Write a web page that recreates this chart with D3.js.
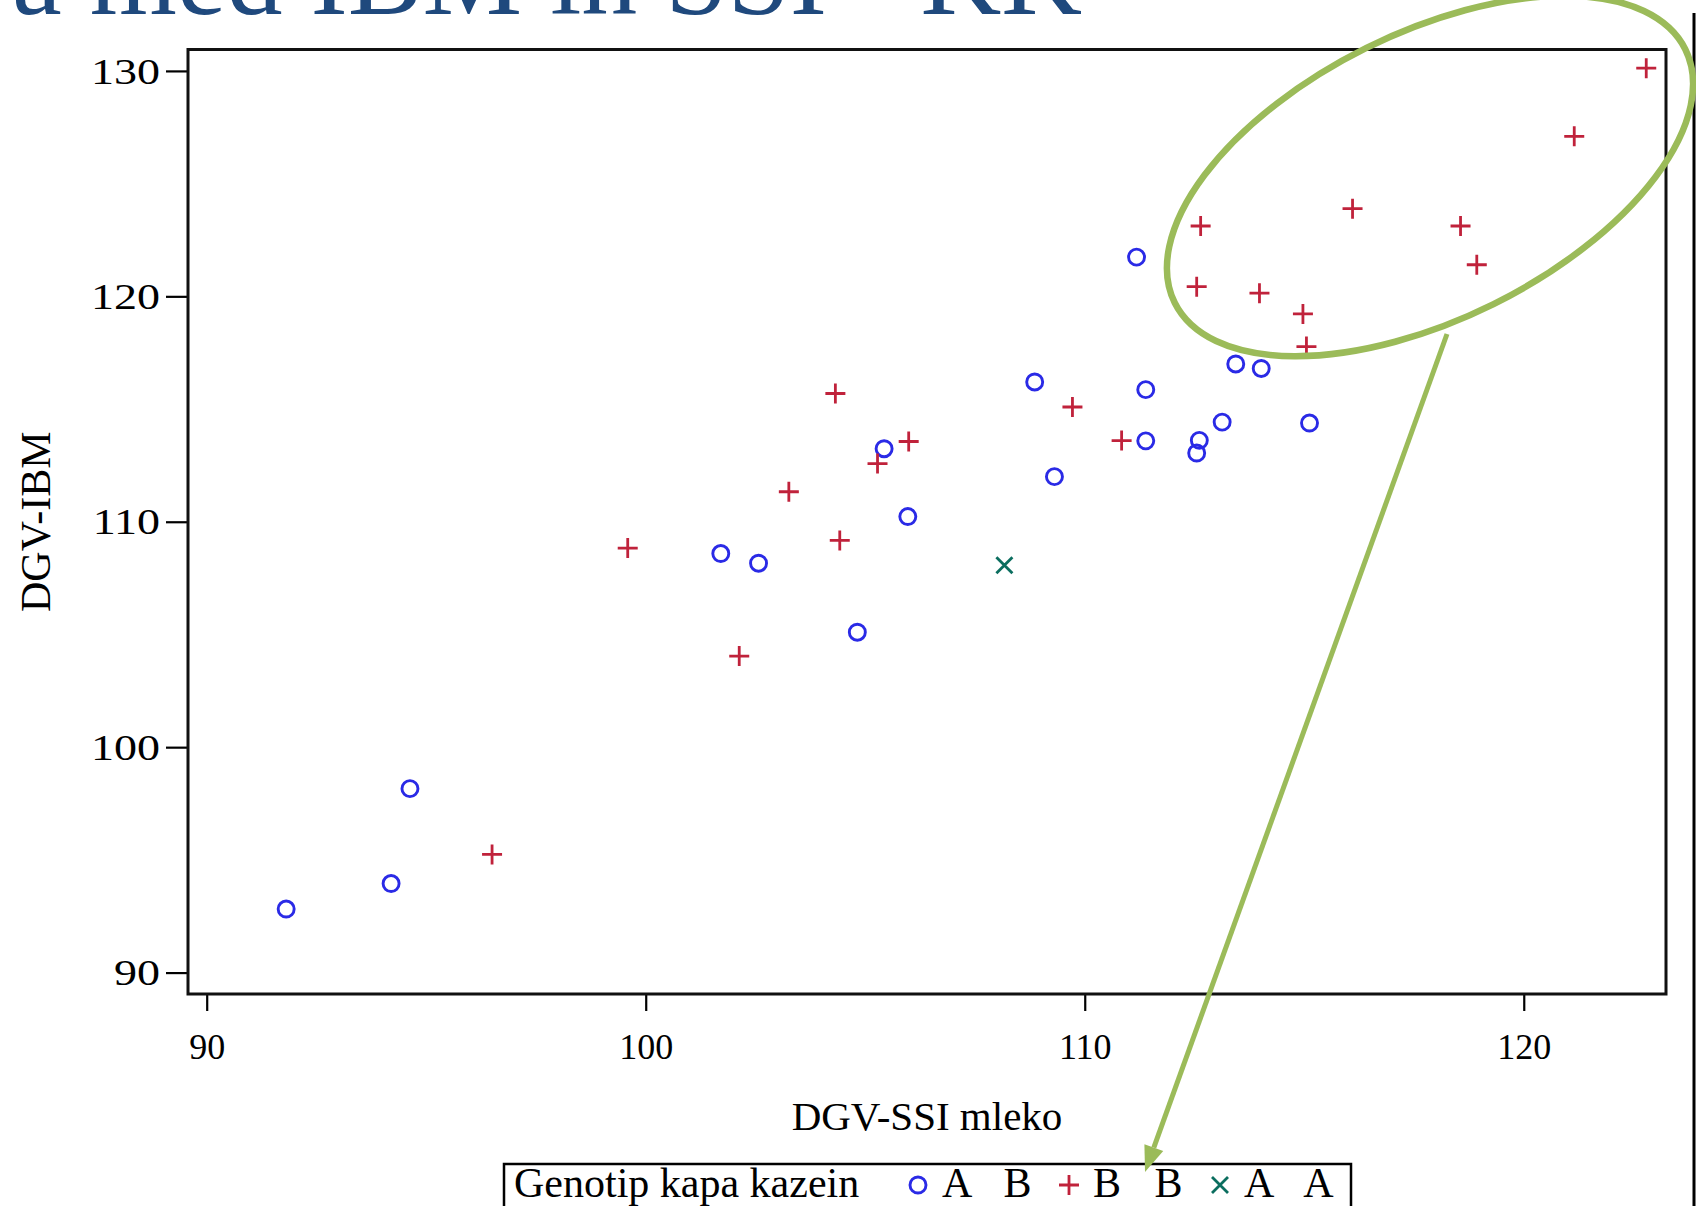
<!DOCTYPE html>
<html lang="sl">
<head>
  <meta charset="utf-8">
  <title>DGV-IBM : DGV-SSI mleko</title>
  <style>
    body { margin: 0; background: #fff; }
    #chart svg { display: block; font-family: "Liberation Serif", "Times New Roman", serif; }
    .tick line { stroke: #000; stroke-width: 2.2; }
    .tick text { fill: #000; }
  </style>
</head>
<body>

<div id="chart"></div>

<script src="https://cdn.jsdelivr.net/npm/d3@7/dist/d3.min.js"></script>
<script>
  // 1. Besedila
  var title       = "a med IBM in SSI - KK";
  var xTitle      = "DGV-SSI mleko";
  var yTitle      = "DGV-IBM";
  var legendTitle = "Genotip kapa kazein";
  var genotypes   = ["A B", "B B", "A A"];

  // 2. Osi
  var xTicks = [90, 100, 110, 120];
  var yTicks = [90, 100, 110, 120, 130];

  // 3. Podatki po genotipu (DGV-SSI mleko, DGV-IBM)
  var abX = [91.81, 94.20, 94.63, 101.71, 102.57, 104.82, 105.43, 105.97, 108.86, 109.31,
             111.18, 111.39, 111.39, 112.61, 112.55, 113.13, 113.44, 114.02, 115.12];
  var abY = [92.82, 93.95, 98.16, 108.59, 108.16, 105.10, 113.24, 110.23, 116.20, 112.00,
             121.74, 115.86, 113.59, 113.61, 113.05, 114.42, 117.00, 116.80, 114.38];

  var bbX = [96.50, 99.59, 102.13, 103.26, 104.32, 104.42, 105.28, 105.99, 109.72, 110.84,
             112.55, 112.64, 113.98, 114.97, 115.05, 116.10, 118.56, 118.93, 121.15, 122.79];
  var bbY = [95.24, 108.83, 104.04, 111.33, 115.69, 109.17, 112.58, 113.56, 115.09, 113.60,
             120.43, 123.12, 120.14, 119.22, 117.77, 123.89, 123.12, 121.40, 127.10, 130.12];

  var aaX = [108.17];
  var aaY = [108.07];

  // 4. Dimenzije
  var width = 1696, height = 1206;
  var plotL = 188, plotR = 1666, plotT = 49.5, plotB = 994;

  var x = d3.scaleLinear().domain([89.574, 123.24]).range([plotL, plotR]);
  var y = d3.scaleLinear().domain([89.05, 130.95]).range([plotB, plotT]);

  var color = d3.scaleOrdinal().domain(genotypes).range(["#2a2ae6", "#c0223b", "#0b6e5f"]);
  var shape = d3.scaleOrdinal().domain(genotypes).range(["circle", "plus", "cross"]);

  var points = [];
  [[abX, abY], [bbX, bbY], [aaX, aaY]].forEach(function(s, i) {
    s[0].forEach(function(v, j) {
      points.push({ g: genotypes[i], x: v, y: s[1][j] });
    });
  });

  var svg = d3.select("#chart").append("svg")
      .attr("width", width)
      .attr("height", height);

  svg.append("rect").attr("width", width).attr("height", height).attr("fill", "#fff");

  // naslov prosojnice (viden samo spodnji del)
  svg.append("text")
      .attr("x", 12).attr("y", 14)
      .attr("font-size", 112)
      .attr("fill", "#1f497d")
      .text(title);

  // rob prosojnice desno
  svg.append("line")
      .attr("x1", 1694).attr("x2", 1694)
      .attr("y1", 13).attr("y2", height)
      .attr("stroke", "#000").attr("stroke-width", 3);

  // 5. Osi
  var gx = svg.append("g")
      .attr("transform", "translate(0," + plotB + ")")
      .call(d3.axisBottom(x).tickValues(xTicks).tickSize(17).tickFormat(d3.format("d")))
      .attr("font-family", null);
  gx.select(".domain").remove();
  gx.selectAll("text")
      .attr("y", 65).attr("dy", 0)
      .attr("font-size", 36);

  var gy = svg.append("g")
      .attr("transform", "translate(" + plotL + ",0)")
      .call(d3.axisLeft(y).tickValues(yTicks).tickSize(22).tickFormat(d3.format("d")))
      .attr("font-family", null);
  gy.select(".domain").remove();
  gy.selectAll("text")
      .attr("x", -28 / 1.28)
      .attr("dy", "0.34em")
      .attr("font-size", 36)
      .attr("transform", "scale(1.28,1)");

  // okvir
  svg.append("rect")
      .attr("x", plotL).attr("y", plotT)
      .attr("width", plotR - plotL).attr("height", plotB - plotT)
      .attr("fill", "none")
      .attr("stroke", "#111").attr("stroke-width", 3);

  svg.append("text")
      .attr("x", (plotL + plotR) / 2).attr("y", 1130)
      .attr("text-anchor", "middle")
      .attr("font-size", 41)
      .text(xTitle);

  svg.append("text")
      .attr("transform", "translate(50," + (plotT + plotB) / 2 + ") rotate(-90)")
      .attr("text-anchor", "middle")
      .attr("font-size", 42)
      .text(yTitle);

  // 6. Oznake
  function drawMarker(sel) {
    sel.each(function(d) {
      var g = d3.select(this), s = shape(d.g), c = color(d.g);
      if (s === "circle") {
        g.append("circle").attr("r", 8)
          .attr("fill", "none").attr("stroke", c).attr("stroke-width", 2.9);
      } else if (s === "plus") {
        g.append("path").attr("d", "M-10,0H10M0,-10V10")
          .attr("fill", "none").attr("stroke", c).attr("stroke-width", 2.8);
      } else {
        g.append("path").attr("d", "M-8,-8L8,8M-8,8L8,-8")
          .attr("fill", "none").attr("stroke", c).attr("stroke-width", 2.8);
      }
    });
  }

  svg.append("g").selectAll("g")
      .data(points)
      .enter().append("g")
        .attr("transform", function(d) { return "translate(" + x(d.x) + "," + y(d.y) + ")"; })
        .call(drawMarker);

  // 7. Legenda
  var legend = svg.append("g");
  legend.append("rect")
      .attr("x", 504).attr("y", 1164)
      .attr("width", 847).attr("height", 80)
      .attr("fill", "#fff")
      .attr("stroke", "#000").attr("stroke-width", 2.5);
  legend.append("text")
      .attr("x", 514).attr("y", 1197)
      .attr("font-size", 42)
      .text(legendTitle);

  var item = legend.selectAll(".item")
      .data(genotypes.map(function(g) { return { g: g }; }))
      .enter().append("g")
        .attr("class", "item")
        .attr("transform", function(d, i) { return "translate(" + (918 + i * 151) + ",1185)"; });
  item.append("g").call(drawMarker);
  item.append("text")
      .attr("x", 24).attr("y", 12)
      .attr("font-size", 42)
      .style("word-spacing", "23px")
      .text(function(d) { return d.g; });

  // 8. Poudarek: elipsa in puscica
  svg.append("ellipse")
      .attr("cx", 0).attr("cy", 0).attr("rx", 285).attr("ry", 143)
      .attr("transform", "translate(1430,176) rotate(-26.4)")
      .attr("fill", "none")
      .attr("stroke", "#9bbb59").attr("stroke-width", 6.5);

  var a0 = [1447, 334], a1 = [1145, 1172];
  var dx = a1[0] - a0[0], dy = a1[1] - a0[1], len = Math.sqrt(dx * dx + dy * dy);
  var ux = dx / len, uy = dy / len;
  var bx = a1[0] - 26 * ux, by = a1[1] - 26 * uy;
  svg.append("line")
      .attr("x1", a0[0]).attr("y1", a0[1])
      .attr("x2", bx).attr("y2", by)
      .attr("stroke", "#9bbb59").attr("stroke-width", 5);
  svg.append("path")
      .attr("d", "M" + a1[0] + "," + a1[1] +
                 "L" + (bx - 10 * uy) + "," + (by + 10 * ux) +
                 "L" + (bx + 10 * uy) + "," + (by - 10 * ux) + "Z")
      .attr("fill", "#9bbb59");
</script>
</body>
</html>
